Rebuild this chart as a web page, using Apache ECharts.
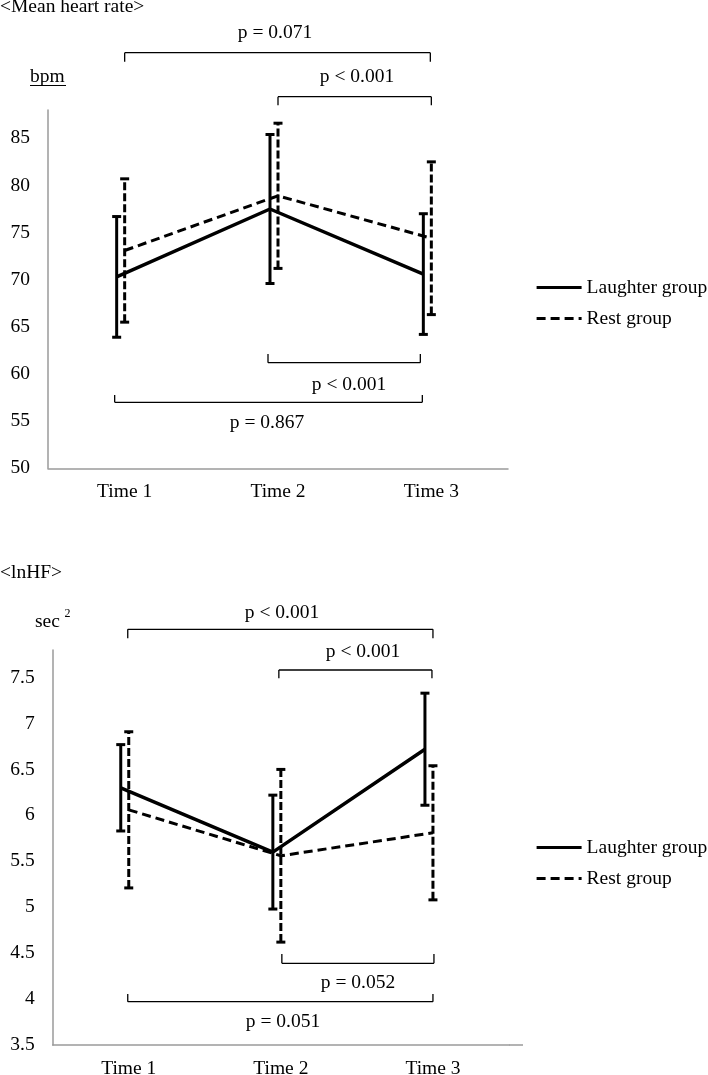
<!DOCTYPE html>
<html><head><meta charset="utf-8">
<script src="https://cdn.jsdelivr.net/npm/echarts@6/dist/echarts.min.js"></script>
<style>html,body{margin:0;padding:0;background:#fff}#c{width:708px;height:1075px}</style>
</head><body><div id="c"></div>
<script>
// ---------- DATA ----------
const categories = ['Time 1', 'Time 2', 'Time 3'];
const seriesNames = ['Laughter group', 'Rest group'];

// <Mean heart rate> (bpm): mean and SD
const hrLaughterMean = [70.3, 77.5, 70.6];
const hrLaughterSD   = [6.4, 7.9, 6.4];
const hrRestMean     = [73.1, 78.9, 74.4];
const hrRestSD       = [7.6, 7.7, 8.1];

// <lnHF> (sec^2): mean and SD
const hfLaughterMean = [6.3, 5.6, 6.72];
const hfLaughterSD   = [0.47, 0.62, 0.61];
const hfRestMean     = [6.06, 5.56, 5.81];
const hfRestSD       = [0.85, 0.94, 0.73];

// axis ranges [min, max, interval]
const hrAxis = [50, 88, 5];
const hfAxis = [3.5, 7.8, 0.5];

// significance brackets [fromCategory, toCategory, label]
const hrBrackets = [[0, 2, 'p = 0.071'], [1, 2, 'p < 0.001'], [1, 2, 'p < 0.001'], [0, 2, 'p = 0.867']];
const hfBrackets = [[0, 2, 'p < 0.001'], [1, 2, 'p < 0.001'], [1, 2, 'p = 0.052'], [0, 2, 'p = 0.051']];

const titles = ['<Mean heart rate>', '<lnHF>'];
const units = ['bpm', 'sec', '2'];

// ---------- LAYOUT / STYLE ----------
const FONT = '"Liberation Serif", "Times New Roman", serif';
const FS = 19.5;
const AXIS_COLOR = '#9a9a9a';
const gridBase = {outerBoundsMode: 'none', containLabel: false};
const grids = [
  Object.assign({left: 48, top: 110, width: 460, height: 358.3}, gridBase),     // HR, Rest (axes shown)
  Object.assign({left: 40, top: 110, width: 460, height: 358.3}, gridBase),     // HR, Laughter (shifted)
  Object.assign({left: 52.7, top: 650, width: 456.3, height: 395}, gridBase),   // HF, Rest (axes shown)
  Object.assign({left: 44.7, top: 650, width: 456.3, height: 395}, gridBase)    // HF, Laughter (shifted)
];
// bracket pixel layout: [dx1, dx2, yLine, tickLen, textX, textY]
const hrBracketLayout = [[0, -1, 52.7, 9, 275, 33], [0, 0, 96.7, 8.5, 357, 77], [-10, -11, 362.7, -8.7, 349, 385], [-10, -9, 402.3, -7.3, 267, 423]];
const hfBracketLayout = [[-1, 0, 629.3, 9, 282, 613.3], [-2, -1, 670, 8.3, 363, 651.7], [1, 1, 963.3, -9.3, 358, 983.3], [-1, 0, 1001.7, -7.7, 283, 1021.7]];

function xAxisCfg(gi, show) {
  return {
    type: 'category', gridIndex: gi, data: categories, show: show,
    boundaryGap: true,
    axisLine: {show: true, onZero: false, lineStyle: {color: AXIS_COLOR, width: 1.5}},
    axisTick: {show: false},
    axisLabel: {fontFamily: FONT, fontSize: FS, color: '#000', margin: 14},
    splitLine: {show: false}
  };
}
function yAxisCfg(gi, ax, show) {
  return {
    type: 'value', gridIndex: gi, min: ax[0], max: ax[1], interval: ax[2], show: show,
    axisLine: {show: true, lineStyle: {color: AXIS_COLOR, width: 1.5}},
    axisTick: {show: false},
    axisLabel: {fontFamily: FONT, fontSize: FS, color: '#000', margin: 18, showMaxLabel: false},
    splitLine: {show: false}
  };
}
function lineSeries(name, means, gi, dashed) {
  return {
    type: 'line', name: name, xAxisIndex: gi, yAxisIndex: gi, data: means,
    symbol: 'none', z: 3,
    lineStyle: {color: '#000', width: dashed ? 3 : 3.5, type: dashed ? [9, 5] : 'solid'},
    itemStyle: {color: '#000'}
  };
}
function errSeries(name, means, sds, gi, dashed) {
  return {
    type: 'custom', name: name + ' SD', xAxisIndex: gi, yAxisIndex: gi, z: 4,
    data: means.map((m, i) => [i, m - sds[i], m + sds[i]]),
    renderItem: function (params, api) {
      const lo = api.coord([api.value(0), api.value(1)]);
      const hi = api.coord([api.value(0), api.value(2)]);
      const x = lo[0], cw = 4.5;
      return {
        type: 'group', children: [
          {type: 'line', shape: {x1: x, y1: lo[1], x2: x, y2: hi[1]},
            style: {stroke: '#000', lineWidth: 3, lineDash: dashed ? [8, 3] : null}},
          {type: 'line', shape: {x1: x - cw, y1: lo[1], x2: x + cw, y2: lo[1]}, style: {stroke: '#000', lineWidth: 3}},
          {type: 'line', shape: {x1: x - cw, y1: hi[1], x2: x + cw, y2: hi[1]}, style: {stroke: '#000', lineWidth: 3}}
        ]
      };
    }
  };
}
function legendCfg(top) {
  return {
    orient: 'vertical', left: 535, top: top, padding: 0, itemWidth: 45, itemHeight: 14, itemGap: 11,
    selectedMode: false, data: seriesNames,
    itemStyle: {opacity: 0},
    lineStyle: {width: 3.2},
    textStyle: {fontFamily: FONT, fontSize: FS, color: '#000'}
  };
}

const chart = echarts.init(document.getElementById('c'), null, {renderer: 'canvas'});
chart.setOption({
  animation: false,
  backgroundColor: '#fff',
  grid: grids,
  xAxis: [xAxisCfg(0, true), xAxisCfg(1, false), xAxisCfg(2, true), xAxisCfg(3, false)],
  yAxis: [yAxisCfg(0, hrAxis, true), yAxisCfg(1, hrAxis, false), yAxisCfg(2, hfAxis, true), yAxisCfg(3, hfAxis, false)],
  legend: [legendCfg(277.5), legendCfg(837.5)],
  series: [
    lineSeries(seriesNames[0], hrLaughterMean, 1, false),
    lineSeries(seriesNames[1], hrRestMean, 0, true),
    errSeries(seriesNames[0], hrLaughterMean, hrLaughterSD, 1, false),
    errSeries(seriesNames[1], hrRestMean, hrRestSD, 0, true),
    lineSeries(seriesNames[0], hfLaughterMean, 3, false),
    lineSeries(seriesNames[1], hfRestMean, 2, true),
    errSeries(seriesNames[0], hfLaughterMean, hfLaughterSD, 3, false),
    errSeries(seriesNames[1], hfRestMean, hfRestSD, 2, true)
  ]
});

// ---------- annotations ----------
const graphics = [];
function txt(text, x, y, size, align) {
  graphics.push({type: 'text', x: x, y: y, silent: true,
    style: {text: text, font: size + 'px ' + FONT, fill: '#000', textAlign: align || 'center', textVerticalAlign: 'middle'}});
}
function ln(x1, y1, x2, y2, w, color) {
  graphics.push({type: 'line', silent: true, shape: {x1: x1, y1: y1, x2: x2, y2: y2}, style: {stroke: color || '#000', lineWidth: w || 1.3}});
}
function brackets(list, layout, xAxisIndex) {
  list.forEach((b, i) => {
    const L = layout[i];
    const xa = chart.convertToPixel({xAxisIndex: xAxisIndex}, b[0]) + L[0];
    const xb = chart.convertToPixel({xAxisIndex: xAxisIndex}, b[1]) + L[1];
    const y = L[2], t = L[3];
    ln(xa, y, xb, y);
    ln(xa, y, xa, y + t);
    ln(xb, y, xb, y + t);
    txt(b[2], L[4], L[5], FS);
  });
}
brackets(hrBrackets, hrBracketLayout, 0);
brackets(hfBrackets, hfBracketLayout, 2);
txt(titles[0], 0, 7, FS, 'left');
txt(titles[1], 0, 573.3, FS, 'left');
txt(units[0], 30, 76.5, FS, 'left');
ln(30, 85.5, 66, 85.5, 1.2);
txt(units[1], 35, 621.7, FS, 'left');
txt(units[2], 64.5, 614, 12, 'left');
// lower x-axis line runs a little past the plot, as in the reference
const axisEndY = chart.convertToPixel({yAxisIndex: 2}, hfAxis[0]);
const axisEndX = chart.convertToPixel({xAxisIndex: 2}, 2) + 76;
ln(axisEndX, axisEndY, 523, axisEndY, 1.5, AXIS_COLOR);
chart.setOption({graphic: graphics});
</script>
</body></html>
